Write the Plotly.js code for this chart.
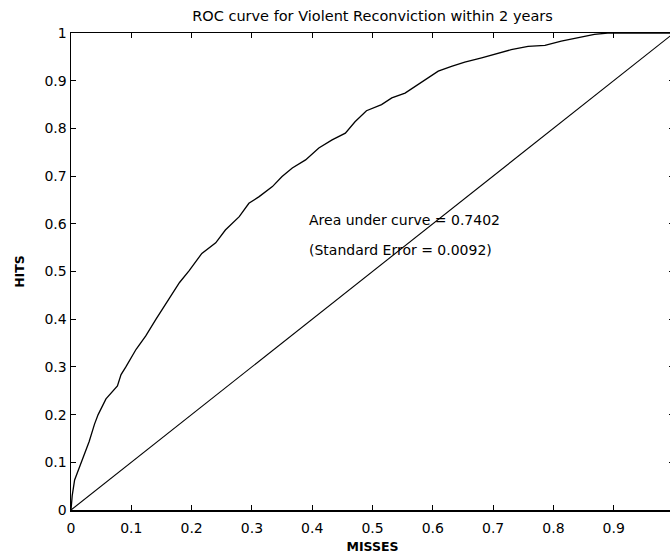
<!DOCTYPE html>
<html>
<head>
<meta charset="utf-8">
<script src="https://cdn.plot.ly/plotly-3.0.1.min.js"></script>
<style>
html,body{margin:0;padding:0;overflow:hidden;background:#fff;}
#chart{width:690px;height:558px;}
</style>
</head>
<body>
<div id="chart"></div>
<script>
// ROC curve (MISSES = false positive rate, HITS = true positive rate)
var rocMisses = [0,0.002,0.006,0.017,0.03,0.039,0.045,0.058,0.077,0.083,0.091,0.108,0.124,0.141,0.163,0.18,0.196,0.217,0.24,0.256,0.279,0.295,0.312,0.334,0.35,0.367,0.389,0.411,0.433,0.455,0.471,0.49,0.515,0.532,0.554,0.576,0.593,0.609,0.631,0.653,0.681,0.703,0.73,0.758,0.786,0.813,0.841,0.868,0.89,1];
var rocHits   = [0,0.03,0.063,0.1,0.143,0.18,0.2,0.233,0.26,0.284,0.3,0.337,0.365,0.4,0.442,0.477,0.502,0.538,0.56,0.587,0.615,0.643,0.657,0.678,0.699,0.717,0.734,0.759,0.776,0.79,0.814,0.837,0.85,0.864,0.874,0.892,0.906,0.92,0.93,0.939,0.948,0.955,0.965,0.972,0.974,0.983,0.99,0.997,1,1];
// chance diagonal
var chanceMisses = [0,1];
var chanceHits = [0,1];
// x tick labels (the "1" label lies past the cropped right edge in the reference)
var xTickVals = [0,0.1,0.2,0.3,0.4,0.5,0.6,0.7,0.8,0.9,1];
var xTickText = ['0','0.1','0.2','0.3','0.4','0.5','0.6','0.7','0.8','0.9',''];
var yTickVals = [0,0.1,0.2,0.3,0.4,0.5,0.6,0.7,0.8,0.9,1];
var yTickText = ['0','0.1','0.2','0.3','0.4','0.5','0.6','0.7','0.8','0.9','1'];
var titleText = 'ROC curve for Violent Reconviction within 2 years';
var xTitle = 'MISSES';
var yTitle = 'HITS';
var areaText = 'Area under curve = 0.7402';
var seText = '(Standard Error = 0.0092)';

var font = 'DejaVu Sans, Liberation Sans, Arial, sans-serif';
var traces = [
  {x: rocMisses, y: rocHits, mode: 'lines', line: {color: '#000', width: 1.3}, hoverinfo: 'skip'},
  {x: chanceMisses, y: chanceHits, mode: 'lines', line: {color: '#000', width: 1.1}, hoverinfo: 'skip'}
];
var axisCommon = {
  range: [0,1], ticks: 'inside', ticklen: 5,
  tickcolor: '#000', tickwidth: 1, showline: true, linecolor: '#000', linewidth: 1.5,
  mirror: 'ticks', showgrid: false, zeroline: false,
  tickfont: {family: font, size: 14, color: '#000'}
};
var layout = {
  width: 690, height: 558,
  margin: {l: 71, r: 16, t: 33, b: 48},
  paper_bgcolor: '#fff', plot_bgcolor: '#fff',
  showlegend: false,
  title: {text: titleText, font: {family: font, size: 14.5, color: '#000'}, x: 0.5, xref: 'paper', xanchor: 'center', y: 0.971, yanchor: 'middle'},
  xaxis: Object.assign({}, axisCommon, {tickvals: xTickVals, ticktext: xTickText,
    title: {text: '<b>' + xTitle + '</b>', font: {family: font, size: 12.5, color: '#000'}, standoff: 7}, ticklabelstandoff: 5}),
  yaxis: Object.assign({}, axisCommon, {tickvals: yTickVals, ticktext: yTickText,
    title: {text: '<b>' + yTitle + '</b>', font: {family: font, size: 12.5, color: '#000'}, standoff: 17}}),
  annotations: [
    {x: 0.391, y: 0.608, xref: 'x', yref: 'y', text: areaText, showarrow: false, xanchor: 'left', yanchor: 'middle', font: {family: font, size: 14, color: '#000'}},
    {x: 0.391, y: 0.545, xref: 'x', yref: 'y', text: seText, showarrow: false, xanchor: 'left', yanchor: 'middle', font: {family: font, size: 14, color: '#000'}}
  ]
};
Plotly.newPlot('chart', traces, layout, {displayModeBar: false, staticPlot: true});
</script>
</body>
</html>
